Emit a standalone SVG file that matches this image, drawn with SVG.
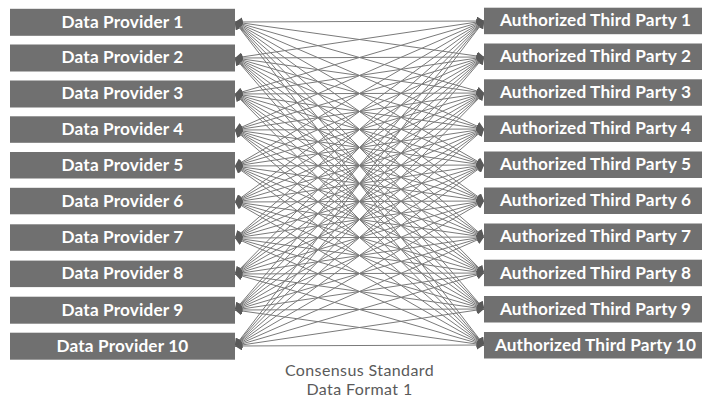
<svg xmlns="http://www.w3.org/2000/svg" width="702" height="398" viewBox="0 0 702 398">
<style>
.box{fill:#707070}
.lbl{font-family:Lato,"Open Sans","Liberation Sans",sans-serif;font-weight:bold;font-size:17.2px;letter-spacing:0.15px;fill:#ffffff;text-anchor:middle}
.cap{font-family:Lato,"Open Sans","Liberation Sans",sans-serif;font-size:16px;letter-spacing:0.4px;fill:#5a5a5a;text-anchor:middle}
.ln{stroke:#7a7a7a;stroke-width:1;fill:none;marker-start:url(#ah);marker-end:url(#ah)}
</style>
<defs>
<marker id="ah" markerUnits="userSpaceOnUse" markerWidth="8" markerHeight="9" refX="7" refY="4.5" orient="auto-start-reverse">
<path d="M0,0 L7,4.5 L0,9 Z" fill="#5a5a5a"/>
</marker>
</defs>
<rect width="702" height="398" fill="#ffffff"/>
<g id="connectors">
<path class="ln" d="M235,22L484,21"/><path class="ln" d="M235,22L484,57"/><path class="ln" d="M235,22L484,93"/><path class="ln" d="M235,22L484,129"/><path class="ln" d="M235,22L484,165"/><path class="ln" d="M235,22L484,201"/><path class="ln" d="M235,22L484,237"/><path class="ln" d="M235,22L484,273"/><path class="ln" d="M235,22L484,309"/><path class="ln" d="M235,22L484,345"/>
<path class="ln" d="M235,58L484,21"/><path class="ln" d="M235,58L484,57"/><path class="ln" d="M235,58L484,93"/><path class="ln" d="M235,58L484,129"/><path class="ln" d="M235,58L484,165"/><path class="ln" d="M235,58L484,201"/><path class="ln" d="M235,58L484,237"/><path class="ln" d="M235,58L484,273"/><path class="ln" d="M235,58L484,309"/><path class="ln" d="M235,58L484,345"/>
<path class="ln" d="M235,94L484,21"/><path class="ln" d="M235,94L484,57"/><path class="ln" d="M235,94L484,93"/><path class="ln" d="M235,94L484,129"/><path class="ln" d="M235,94L484,165"/><path class="ln" d="M235,94L484,201"/><path class="ln" d="M235,94L484,237"/><path class="ln" d="M235,94L484,273"/><path class="ln" d="M235,94L484,309"/><path class="ln" d="M235,94L484,345"/>
<path class="ln" d="M235,130L484,21"/><path class="ln" d="M235,130L484,57"/><path class="ln" d="M235,130L484,93"/><path class="ln" d="M235,130L484,129"/><path class="ln" d="M235,130L484,165"/><path class="ln" d="M235,130L484,201"/><path class="ln" d="M235,130L484,237"/><path class="ln" d="M235,130L484,273"/><path class="ln" d="M235,130L484,309"/><path class="ln" d="M235,130L484,345"/>
<path class="ln" d="M235,166L484,21"/><path class="ln" d="M235,166L484,57"/><path class="ln" d="M235,166L484,93"/><path class="ln" d="M235,166L484,129"/><path class="ln" d="M235,166L484,165"/><path class="ln" d="M235,166L484,201"/><path class="ln" d="M235,166L484,237"/><path class="ln" d="M235,166L484,273"/><path class="ln" d="M235,166L484,309"/><path class="ln" d="M235,166L484,345"/>
<path class="ln" d="M235,202L484,21"/><path class="ln" d="M235,202L484,57"/><path class="ln" d="M235,202L484,93"/><path class="ln" d="M235,202L484,129"/><path class="ln" d="M235,202L484,165"/><path class="ln" d="M235,202L484,201"/><path class="ln" d="M235,202L484,237"/><path class="ln" d="M235,202L484,273"/><path class="ln" d="M235,202L484,309"/><path class="ln" d="M235,202L484,345"/>
<path class="ln" d="M235,238L484,21"/><path class="ln" d="M235,238L484,57"/><path class="ln" d="M235,238L484,93"/><path class="ln" d="M235,238L484,129"/><path class="ln" d="M235,238L484,165"/><path class="ln" d="M235,238L484,201"/><path class="ln" d="M235,238L484,237"/><path class="ln" d="M235,238L484,273"/><path class="ln" d="M235,238L484,309"/><path class="ln" d="M235,238L484,345"/>
<path class="ln" d="M235,274L484,21"/><path class="ln" d="M235,274L484,57"/><path class="ln" d="M235,274L484,93"/><path class="ln" d="M235,274L484,129"/><path class="ln" d="M235,274L484,165"/><path class="ln" d="M235,274L484,201"/><path class="ln" d="M235,274L484,237"/><path class="ln" d="M235,274L484,273"/><path class="ln" d="M235,274L484,309"/><path class="ln" d="M235,274L484,345"/>
<path class="ln" d="M235,310L484,21"/><path class="ln" d="M235,310L484,57"/><path class="ln" d="M235,310L484,93"/><path class="ln" d="M235,310L484,129"/><path class="ln" d="M235,310L484,165"/><path class="ln" d="M235,310L484,201"/><path class="ln" d="M235,310L484,237"/><path class="ln" d="M235,310L484,273"/><path class="ln" d="M235,310L484,309"/><path class="ln" d="M235,310L484,345"/>
<path class="ln" d="M235,346L484,21"/><path class="ln" d="M235,346L484,57"/><path class="ln" d="M235,346L484,93"/><path class="ln" d="M235,346L484,129"/><path class="ln" d="M235,346L484,165"/><path class="ln" d="M235,346L484,201"/><path class="ln" d="M235,346L484,237"/><path class="ln" d="M235,346L484,273"/><path class="ln" d="M235,346L484,309"/><path class="ln" d="M235,346L484,345"/>
</g>
<g id="dp1"><rect class="box" x="10" y="8.8" width="225" height="27"/><text class="lbl" x="122.5" y="27.6">Data Provider 1</text></g>
<g id="dp2"><rect class="box" x="10" y="44.5" width="225" height="27"/><text class="lbl" x="122.5" y="63.3">Data Provider 2</text></g>
<g id="dp3"><rect class="box" x="10" y="80.5" width="225" height="27"/><text class="lbl" x="122.5" y="99.3">Data Provider 3</text></g>
<g id="dp4"><rect class="box" x="10" y="116.3" width="225" height="26.5"/><text class="lbl" x="122.5" y="135.1">Data Provider 4</text></g>
<g id="dp5"><rect class="box" x="10" y="152" width="225" height="26.5"/><text class="lbl" x="122.5" y="170.8">Data Provider 5</text></g>
<g id="dp6"><rect class="box" x="10" y="187.8" width="225" height="26.5"/><text class="lbl" x="122.5" y="206.6">Data Provider 6</text></g>
<g id="dp7"><rect class="box" x="10" y="224.3" width="225" height="26.5"/><text class="lbl" x="122.5" y="243.1">Data Provider 7</text></g>
<g id="dp8"><rect class="box" x="10" y="260.6" width="225" height="26.5"/><text class="lbl" x="122.5" y="279.3">Data Provider 8</text></g>
<g id="dp9"><rect class="box" x="10" y="296.7" width="225" height="27"/><text class="lbl" x="122.5" y="315.5">Data Provider 9</text></g>
<g id="dp10"><rect class="box" x="10" y="332.7" width="225" height="27"/><text class="lbl" x="122.5" y="351.5">Data Provider 10</text></g>
<g id="atp1"><rect class="box" x="484" y="7.7" width="218" height="26.5"/><text class="lbl" x="595.5" y="26.3">Authorized Third Party 1</text></g>
<g id="atp2"><rect class="box" x="484" y="43.5" width="218" height="26.5"/><text class="lbl" x="595.5" y="62.3">Authorized Third Party 2</text></g>
<g id="atp3"><rect class="box" x="484" y="79.3" width="218" height="26.5"/><text class="lbl" x="595.5" y="98.1">Authorized Third Party 3</text></g>
<g id="atp4"><rect class="box" x="484" y="115.5" width="218" height="26.5"/><text class="lbl" x="595.5" y="134.3">Authorized Third Party 4</text></g>
<g id="atp5"><rect class="box" x="484" y="151.5" width="218" height="26.5"/><text class="lbl" x="595.5" y="170.3">Authorized Third Party 5</text></g>
<g id="atp6"><rect class="box" x="484" y="187.5" width="218" height="26.5"/><text class="lbl" x="595.5" y="206.3">Authorized Third Party 6</text></g>
<g id="atp7"><rect class="box" x="484" y="223.5" width="218" height="26.5"/><text class="lbl" x="595.5" y="242.3">Authorized Third Party 7</text></g>
<g id="atp8"><rect class="box" x="484" y="259.7" width="218" height="26.5"/><text class="lbl" x="595.5" y="278.5">Authorized Third Party 8</text></g>
<g id="atp9"><rect class="box" x="484" y="296" width="218" height="26.5"/><text class="lbl" x="595.5" y="314.8">Authorized Third Party 9</text></g>
<g id="atp10"><rect class="box" x="484" y="332" width="218" height="26.5"/><text class="lbl" x="595.5" y="350.8">Authorized Third Party 10</text></g>
<g id="caption">
<text class="cap" x="359.5" y="375.5">Consensus Standard</text>
<text class="cap" x="359.5" y="394.5">Data Format 1</text>
</g>
</svg>
